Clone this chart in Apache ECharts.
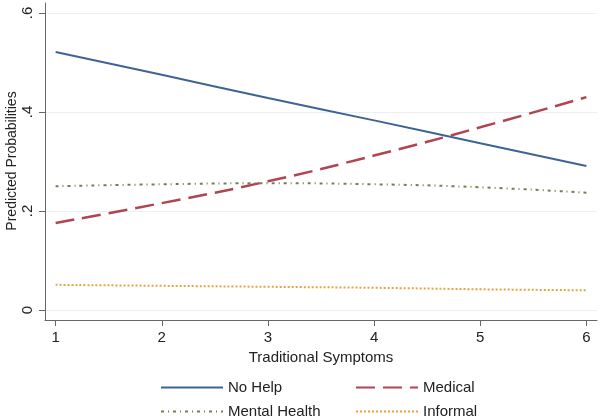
<!DOCTYPE html>
<html><head><meta charset="utf-8">
<script src="https://cdn.jsdelivr.net/npm/echarts@6/dist/echarts.min.js"></script>
<style>html,body{margin:0;padding:0;background:#fff}#c{width:600px;height:419px}</style>
</head><body><div id="c"></div>
<script>
const symptoms = [1, 2, 3, 4, 5, 6];
const noHelp = [0.521, 0.475, 0.428, 0.383, 0.337, 0.291];
const medical = [0.176, 0.216, 0.260, 0.312, 0.369, 0.430];
const mentalHealth = [0.250, 0.254, 0.256, 0.254, 0.248, 0.237];
const informal = [0.051, 0.049, 0.047, 0.045, 0.042, 0.040];
const yTicks = [0, 0.2, 0.4, 0.6];
const yTickLabels = ['0', '.2', '.4', '.6'];
const xTicks = [1, 2, 3, 4, 5, 6];
const yTitle = 'Predicted Probabilities';
const xTitle = 'Traditional Symptoms';

const pair = arr => symptoms.map((x, i) => [x, arr[i]]);
const font = 'Liberation Sans, Arial, sans-serif';
const txt = '#222';

const mkLegend = (name, left, top) => ({
  show: true, left: left, top: top, itemWidth: 62, itemHeight: 14, itemGap: 10,
  itemStyle: {opacity: 0}, data: [name],
  textStyle: {fontFamily: font, fontSize: 15, color: txt}
});

const chart = echarts.init(document.getElementById('c'), null, {renderer: 'canvas'});
chart.setOption({
  animation: false,
  backgroundColor: '#fff',
  grid: {left: 45, right: 3, top: 3, bottom: 99, containLabel: false, outerBoundsMode: 'none'},
  graphic: [{
    type: 'text', x: 12, y: 161, rotation: Math.PI / 2, silent: true,
    style: {text: yTitle, fontFamily: font, fontSize: 14, fill: txt, align: 'center', verticalAlign: 'middle'}
  }],
  xAxis: {
    type: 'value', min: 0.9, max: 6.1,
    name: xTitle, nameLocation: 'middle', nameGap: 29,
    nameTextStyle: {fontFamily: font, fontSize: 15, color: txt},
    axisLine: {show: true, onZero: false, lineStyle: {color: '#666', width: 1}},
    axisTick: {show: true, length: 6, customValues: xTicks, lineStyle: {color: '#666'}},
    axisLabel: {customValues: xTicks, fontFamily: font, fontSize: 15, color: txt, margin: 10},
    splitLine: {show: false}
  },
  yAxis: {
    type: 'value', min: -0.02, max: 0.62,
    axisLine: {show: true, onZero: false, lineStyle: {color: '#666', width: 1}},
    axisTick: {show: true, length: 6, customValues: yTicks, lineStyle: {color: '#666'}},
    axisLabel: {customValues: yTicks, rotate: 90, fontFamily: font, fontSize: 15, color: txt, margin: 10,
      formatter: v => { const i = yTicks.findIndex(t => Math.abs(t - v) < 1e-9); return i >= 0 ? yTickLabels[i] : ''; }},
    splitLine: {show: false}
  },
  legend: [
    mkLegend('No Help', 155, 375),
    mkLegend('Medical', 350, 375),
    mkLegend('Mental Health', 155, 399),
    mkLegend('Informal', 350, 399)
  ],
  series: [
    {name: 'No Help', type: 'line', smooth: true, symbol: 'none', data: pair(noHelp),
     color: '#3d6492', lineStyle: {color: '#3d6492', width: 2},
     markLine: {silent: true, symbol: 'none', label: {show: false},
       lineStyle: {color: '#eaeff3', width: 1, type: 'solid'}, z: 0,
       data: yTicks.map(v => ({yAxis: v}))}},
    {name: 'Medical', type: 'line', smooth: true, symbol: 'none', data: pair(medical),
     color: '#b24352', lineStyle: {color: '#b24352', width: 2.5, type: [19, 8]}},
    {name: 'Mental Health', type: 'line', smooth: true, symbol: 'none', data: pair(mentalHealth),
     color: '#6c8350', lineStyle: {color: '#6c8350', width: 2, type: [3, 4, 1, 4]}},
    {name: 'Informal', type: 'line', smooth: true, symbol: 'none', data: pair(informal),
     color: '#e9a23e', lineStyle: {color: '#e9a23e', width: 2, type: [2, 2]}}
  ]
});
</script></body></html>
